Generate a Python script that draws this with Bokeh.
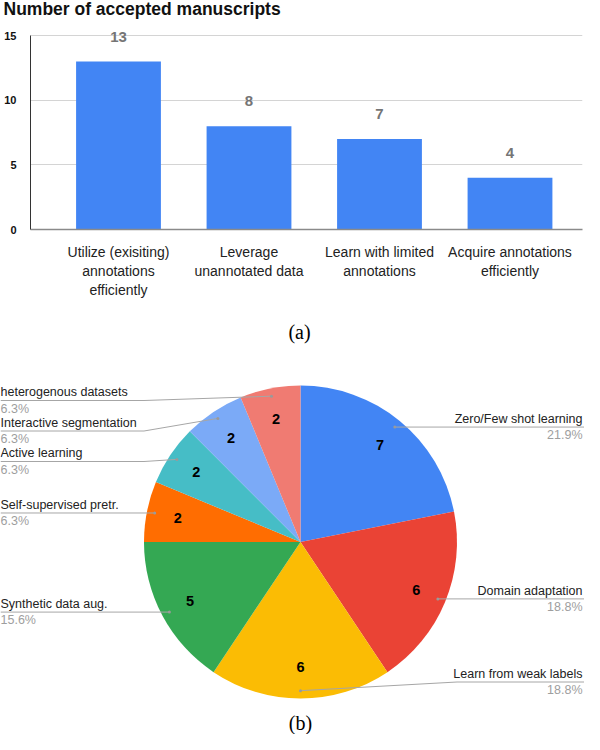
import math
from decimal import Decimal, ROUND_HALF_UP

from bokeh.plotting import figure
from bokeh.models import Range1d, ColumnDataSource, LabelSet, FixedTicker
from bokeh.layouts import column
from bokeh.embed import file_html
from bokeh.resources import INLINE
from bokeh.core.properties import value

# ---------------- data ----------------
bar_title = "Number of accepted manuscripts"
bar_categories = ["Utilize (exisiting)\nannotations\nefficiently",
                  "Leverage\nunannotated data",
                  "Learn with limited\nannotations",
                  "Acquire annotations\nefficiently"]
bar_values = [13, 8, 7, 4]
y_ticks = [0, 5, 10, 15]

pie_labels = ["Zero/Few shot learning", "Domain adaptation", "Learn from weak labels",
              "Synthetic data aug.", "Self-supervised pretr.", "Active learning",
              "Interactive segmentation", "heterogenous datasets"]
pie_values = [7, 6, 6, 5, 2, 2, 2, 2]
pie_colors = ["#4285F4", "#EA4335", "#FBBC04", "#34A853",
              "#FF6D01", "#46BDC6", "#7BAAF7", "#F07B72"]

caption_a = "(a)"
caption_b = "(b)"

# ---------------- layout constants ----------------
SANS = "Liberation Sans"
SERIF = "Liberation Serif"
W = 584
H0, H1 = 20, 280         # title strip, bar chart
H2 = 734 - H0 - H1       # pie chart
B1 = H0
B2 = H0 + H1


def plain_fig(height, top, bottom):
    f = figure(width=W, height=height, x_range=Range1d(0, W),
               y_range=Range1d(-bottom, -top),
               output_backend="svg", toolbar_location=None, min_border=0,
               x_axis_location=None, y_axis_location=None)
    f.grid.visible = False
    f.outline_line_color = None
    f.frame_align = False
    return f


# ---------------- title strip ----------------
t = plain_fig(H0, 0, B1)
t.text(x=[3], y=[-8], text=[bar_title], text_font=value(SANS), text_font_style="bold",
       text_font_size="17.5px", text_color="#111111", text_align="left",
       text_baseline="middle")

# ---------------- bar chart ----------------
frame_left, frame_right = 30, W - 2
border_top = 2
frame_bottom = 234
border_bottom = B2 - frame_bottom
frame_h = H1 - border_top - border_bottom
px_per_unit = (233.5 - 35) / 15
y_end = frame_h / px_per_unit
slot_px, first_center_px = 130.5, 118
x_start = 0.5 - (first_center_px - frame_left) / slot_px
x_end = x_start + (frame_right - frame_left) / slot_px

x_pos = [i + 0.5 for i in range(len(bar_categories))]

p = figure(width=W, height=H1,
           x_range=Range1d(x_start, x_end), y_range=Range1d(0, y_end),
           output_backend="svg", toolbar_location=None,
           min_border_left=frame_left, min_border_right=W - frame_right,
           min_border_top=border_top, min_border_bottom=border_bottom)
p.frame_align = False
p.outline_line_color = None
p.xgrid.grid_line_color = None
p.ygrid.grid_line_color = "#d4d4d4"
p.ygrid.ticker = FixedTicker(ticks=y_ticks)

p.yaxis.ticker = FixedTicker(ticks=y_ticks, minor_ticks=[])
p.yaxis.bounds = (0, 15)
p.yaxis.axis_line_color = "#333333"
p.yaxis.major_tick_line_color = None
p.yaxis.minor_tick_line_color = None
p.yaxis.major_label_text_font = SANS
p.yaxis.major_label_text_font_style = "bold"
p.yaxis.major_label_text_font_size = "11px"
p.yaxis.major_label_text_color = "#111111"
p.yaxis.major_label_standoff = 8

p.xaxis.ticker = FixedTicker(ticks=x_pos, minor_ticks=[])
p.xaxis.major_label_overrides = {xp: lab for xp, lab in zip(x_pos, bar_categories)}
p.xaxis.axis_line_color = "#8a8a8a"
p.xaxis.axis_line_width = 1.5
p.xaxis.major_tick_line_color = None
p.xaxis.minor_tick_line_color = None
p.xaxis.major_label_text_font = SANS
p.xaxis.major_label_text_font_size = "14px"
p.xaxis.major_label_text_color = "#222222"
p.xaxis.major_label_standoff = 8

src = ColumnDataSource(dict(x=x_pos, val=bar_values,
                            txt=[str(v) for v in bar_values]))
p.vbar(x="x", top="val", width=0.65, source=src,
       fill_color="#4285F4", line_color=None)
p.add_layout(LabelSet(x="x", y="val", text="txt", source=src, y_offset=25,
                      text_align="center", text_baseline="middle",
                      text_font=value(SANS), text_font_style="bold",
                      text_font_size="15px", text_color="#757575"))

# ---------------- pie chart ----------------
q = plain_fig(H2, B2, 734)

total = sum(pie_values)
cx, cy, R = 300.0, -541.5, 156.5
cum = [0.0]
for v in pie_values:
    cum.append(cum[-1] + v / total)
starts = [math.pi / 2 - 2 * math.pi * c for c in cum[:-1]]
ends = [math.pi / 2 - 2 * math.pi * c for c in cum[1:]]
mids = [math.pi * (a + b) for a, b in zip(cum[:-1], cum[1:])]  # clockwise from top

wsrc = ColumnDataSource(dict(start=starts, end=ends, color=pie_colors))
q.wedge(x=cx, y=cy, radius=R, start_angle="start", end_angle="end",
        direction="clock", fill_color="color", line_color=None, source=wsrc)

# slice value labels
nsrc = ColumnDataSource(dict(
    x=[cx + 0.8 * R * math.sin(m) for m in mids],
    y=[cy + 0.8 * R * math.cos(m) for m in mids],
    t=[str(v) for v in pie_values]))
q.text(x="x", y="y", text="t", source=nsrc, text_align="center",
       text_baseline="middle", text_font=value(SANS), text_font_style="bold",
       text_font_size="14.5px", text_color="#000000")

# leader lines and outside labels
dot_x = [cx + 0.95 * R * math.sin(m) for m in mids]
dot_y = [cy + 0.95 * R * math.cos(m) for m in mids]
right_side = [i for i, m in enumerate(mids) if math.sin(m) > -1e-9]
left_side = [i for i, m in enumerate(mids) if math.sin(m) <= -1e-9]


def layout_side(idx):
    order = sorted(idx, key=lambda i: -dot_y[i])
    top_lim, bot_lim, gap = cy + R - 15, cy - R + 16.5, 30.5
    ys = []
    prev = None
    for i in order:
        y = min(dot_y[i], top_lim)
        if prev is not None:
            y = min(y, prev - gap)
        ys.append(y)
        prev = y
    nxt = None
    for k in reversed(range(len(order))):
        y = max(ys[k], bot_lim)
        if nxt is not None:
            y = max(y, nxt + gap)
        ys[k] = y
        nxt = y
    return dict(zip(order, ys))


line_y = {}
line_y.update(layout_side(right_side))
line_y.update(layout_side(left_side))

pcts = [str((Decimal(100 * v) / Decimal(total)).quantize(Decimal("0.1"),
                                                          rounding=ROUND_HALF_UP)) + "%"
        for v in pie_values]

xs, ys, tx, ty_name, ty_pct, talign = [], [], [], [], [], []
for i in range(len(pie_values)):
    ly = line_y[i]
    if i in right_side:
        knee, edge, txt_x, al = cx + R, W, W - 2, "right"
    else:
        knee, edge, txt_x, al = cx - R, 0, 0, "left"
    xs.append([dot_x[i], knee, edge])
    ys.append([dot_y[i], ly, ly])
    tx.append(txt_x)
    ty_name.append(ly + 8.3)
    ty_pct.append(ly - 8)
    talign.append(al)

q.multi_line(xs=xs, ys=ys, line_color="#a6a6a6", line_width=1)
q.scatter(x=dot_x, y=dot_y, size=3, color="#9a9a9a", line_color=None)

lsrc = ColumnDataSource(dict(x=tx, yn=ty_name, yp=ty_pct, name=pie_labels,
                             pct=pcts, align=talign))
q.text(x="x", y="yn", text="name", source=lsrc, text_align="align",
       text_baseline="middle", text_font=value(SANS), text_font_size="12.5px",
       text_color="#222222")
q.text(x="x", y="yp", text="pct", source=lsrc, text_align="align",
       text_baseline="middle", text_font=value(SANS), text_font_size="12.5px",
       text_color="#9e9e9e")

# captions
q.text(x=[299, 300], y=[-331.7, -722], text=[caption_a, caption_b],
       text_font=value(SERIF), text_font_size="20px", text_color="#000000",
       text_align="center", text_baseline="middle")

layout = column(t, p, q)
open("out.html", "w").write(file_html(layout, INLINE))
